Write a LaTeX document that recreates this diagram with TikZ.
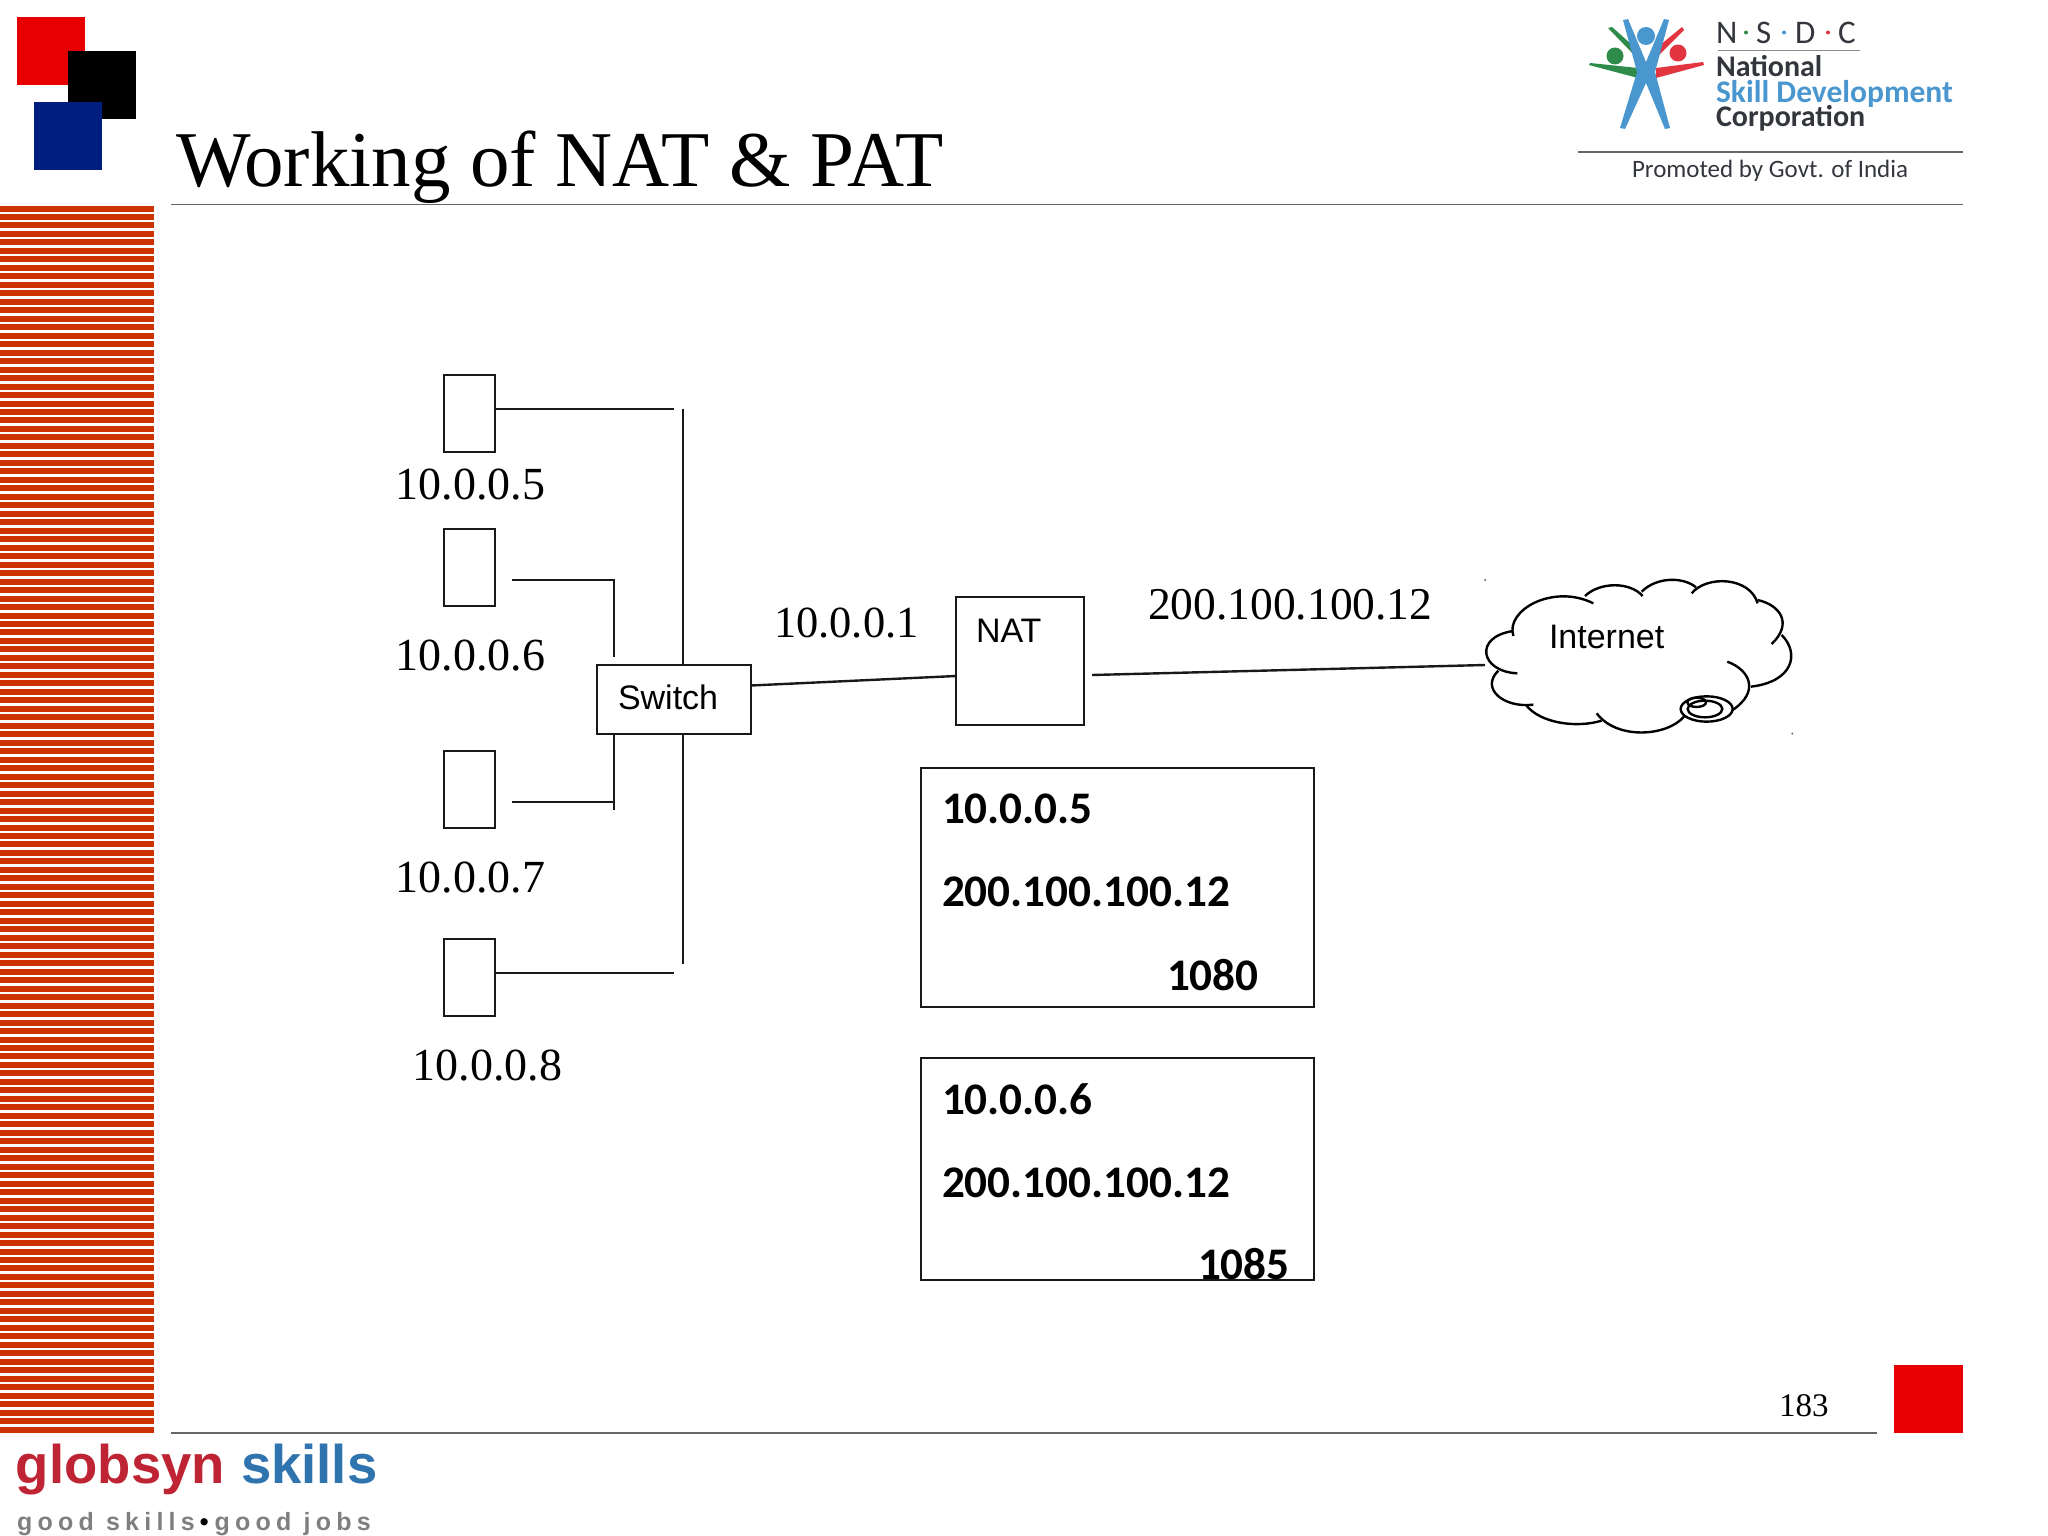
\documentclass[tikz,border=0pt]{standalone}
\usepackage{fontspec}
\setmainfont{Liberation Serif}
\newfontfamily\arialf{Liberation Sans}
\newfontfamily\calib{Carlito}
\newfontfamily\sloganf[LetterSpace=21]{Liberation Sans}
\definecolor{stripe}{HTML}{CC3300}
\definecolor{slred}{HTML}{E60000}
\definecolor{slblue}{HTML}{001E80}
\definecolor{nblue}{HTML}{4A96CE}
\definecolor{ngreen}{HTML}{2E8B4A}
\definecolor{nred}{HTML}{E23540}
\definecolor{ndark}{HTML}{33373D}
\definecolor{gred}{HTML}{BE2433}
\definecolor{gblue}{HTML}{2F74AE}
\definecolor{ggray}{HTML}{7F7F7F}
\tikzset{
  txt/.style={anchor=base west,inner sep=0pt,outer sep=0pt},
  ip/.style={txt,font=\fontsize{46}{46}\selectfont},
  ipb/.style={txt,font=\fontsize{45}{45}\selectfont},
  sans/.style={txt,font=\arialf\fontsize{34}{34}\selectfont},
  bold/.style={txt,font=\calib\bfseries\fontsize{45.2}{45}\selectfont},
  logotext/.style={txt,font=\calib\fontsize{33}{33}\selectfont},
  logobold/.style={txt,font=\calib\bfseries\fontsize{30}{30}\selectfont},
  logoblue/.style={txt,font=\calib\bfseries\fontsize{31.5}{31}\selectfont},
  wire/.style={draw=black!90,line width=2.4pt},
  rule/.style={draw=black!60,line width=1.6pt},
  boxn/.style={draw=black!90,line width=2.4pt,inner sep=0pt,outer sep=0pt},
  pc/.style={boxn,minimum width=51pt,minimum height=77pt},
  cloudline/.style={draw=black,line width=2.4pt},
}
\begin{document}
\begin{tikzpicture}[x=1pt,y=-1pt]
\useasboundingbox (0,0) rectangle (2048,1536);
% corner squares
\fill[slred] (17,17) rectangle (85,85);
\fill[black] (68,51) rectangle (136,119);
\fill[slblue] (34,102) rectangle (102,170);
% stripes
\foreach \i in {0,...,144} {
  \pgfmathsetmacro{\ytop}{round(205.5+\i*8.48)}
  \fill[stripe] (0,\ytop) rectangle (154,\ytop+6.3);
}
% title
\node[txt,font=\fontsize{79}{79}\selectfont] (title) at (176,186) {Working of NAT \& PAT};
\coordinate (tl) at (171,204.5); \coordinate (tr) at (1963,204.5);
\draw[rule] (tl) -- (tr);
\coordinate (bl) at (171,1433); \coordinate (br) at (1877,1433);
\draw[rule] (bl) -- (br);
\fill[slred] (1894,1365) rectangle (1963,1433);
\node[txt,font=\fontsize{33}{33}\selectfont] (page) at (1779,1416) {183};
% NSDC logo
\fill[ngreen] (1608,28) -- (1612,27) -- (1640,52) -- (1637,58) -- cycle;
\fill[ngreen] (1589,65) -- (1590,63) -- (1638,68) -- (1638,78) -- cycle;
\fill[ngreen] (1615,56) circle (8.5pt);
\fill[nred] (1682,27) -- (1684,30) -- (1658,56) -- (1654,50) -- cycle;
\fill[nred] (1703,62) -- (1704,65) -- (1656,78) -- (1656,68) -- cycle;
\fill[nred] (1678,53) circle (8.5pt);
\fill[nblue] (1623,20) -- (1628,19) -- (1646,62) -- (1664,19) -- (1669,20) -- (1655,72) -- (1670,128) -- (1665,129) -- (1646,83) -- (1625,129) -- (1620,128) -- (1637,72) -- cycle;
\fill[nblue] (1646,36) circle (9pt);
\node[logotext,text=ndark] (n1) at (1716,43.5) {N};
\node[logotext,text=ndark] (n2) at (1756,43.5) {S};
\node[logotext,text=ndark] (n3) at (1795,43.5) {D};
\node[logotext,text=ndark] (n4) at (1838,43.5) {C};
\fill[ngreen] (1746,32.5) circle (2pt);
\fill[nblue] (1784,32.5) circle (2pt);
\fill[nred] (1828,32.5) circle (2pt);
\draw[black!45,line width=1pt] (1718,51) -- (1860,51);
\node[logobold,text=ndark] (nat1) at (1716,77) {National};
\node[logoblue,text=nblue] (nat2) at (1716,103) {Skill Development};
\node[logobold,text=ndark] (nat3) at (1716,127) {Corporation};
\draw[rule] (1578,152) -- (1963,152);
\node[txt,text=ndark,font=\calib\fontsize{25}{25}\selectfont] (prom) at (1632,178) {Promoted by Govt. of India};
% globsyn
\node[txt,text=gred,font=\arialf\bfseries\fontsize{54.5}{55}\selectfont] (g1) at (16,1483.5) {globsyn};
\node[txt,text=gblue,font=\arialf\bfseries\fontsize{54.5}{55}\selectfont] (g2) at (241,1483.5) {skills};
\node[txt,text=ggray,font=\sloganf\bfseries\fontsize{25}{25}\selectfont] (g3) at (17,1530) {good skills\hspace{5pt}\textcolor{black}{•}\hspace{6pt}good jobs};
% hosts
\node[pc] (a) at (469.5,413.5) {};
\node[pc] (b) at (469.5,567.5) {};
\node[pc] (c) at (469.5,789.5) {};
\node[pc] (d) at (469.5,977.5) {};
\node[ip] (la) at (395.5,499) {10.0.0.5};
\node[ip] (lb) at (395.5,670) {10.0.0.6};
\node[ip] (lc) at (395.5,892) {10.0.0.7};
\node[ip] (ld) at (412.5,1080) {10.0.0.8};
% switch, NAT
\node[boxn,minimum width=154pt,minimum height=69pt] (sw) at (674,699.5) {};
\node[sans] (swt) at (618,709) {Switch};
\node[boxn,minimum width=128pt,minimum height=128pt] (nat) at (1020,661) {};
\node[sans] (natt) at (976,642) {NAT};
\node[ipb,font=\fontsize{44.5}{45}\selectfont] (l1) at (774,637) {10.0.0.1};
\node[ipb,font=\fontsize{45.5}{45}\selectfont] (l2) at (1148,619.5) {200.100.100.12};
% wires
\coordinate (ae) at (674,409);
\coordinate (bs) at (512,580); \coordinate (bc) at (614,580); \coordinate (be) at (614,657);
\coordinate (cs) at (512,802); \coordinate (cc) at (614,802); \coordinate (ce) at (614,810);
\coordinate (bust) at (683,409); \coordinate (busb) at (683,964);
\coordinate (de) at (674,973);
\coordinate (ns) at (1092,675); \coordinate (ci) at (1485,665);
\draw[wire] ([yshift=4.5pt]a.east) -- (ae);
\draw[wire] (bust) -- (sw.north -| bust);
\draw[wire] (sw.south -| busb) -- (busb);
\draw[wire] (bs) -- (bc) -- (be);
\draw[wire] (cs) -- (cc);
\draw[wire] (sw.south -| ce) -- (ce);
\draw[wire] ([yshift=4.5pt]d.east) -- (de);
\draw[wire] ([yshift=14pt]sw.east) -- ([yshift=-15pt]nat.west);
\draw[wire] (ns) -- (ci);
% info boxes
\node[boxn,minimum width=393pt,minimum height=239pt] (i1) at (1117.5,887.5) {};
\node[bold] (i1a) at (942,823) {10.0.0.5};
\node[bold] (i1b) at (942,906.5) {200.100.100.12};
\node[bold] (i1c) at (1167,990) {1080};
\node[boxn,minimum width=393pt,minimum height=222pt] (i2) at (1117.5,1169) {};
\node[bold] (i2a) at (942,1114) {10.0.0.6};
\node[bold] (i2b) at (942,1197) {200.100.100.12};
\node[bold] (i2c) at (1198,1279) {1085};
% cloud
\begin{scope}[shift={(1460,560)},x=0.3333pt,y=-0.3333pt]
\draw[cloudline] (160,228) .. controls (135,150) and (280,70) .. (400,130);
\draw[cloudline] (375,108) .. controls (420,65) and (510,65) .. (548,108);
\draw[cloudline] (545,95) .. controls (590,50) and (670,50) .. (708,82);
\draw[cloudline] (695,100) .. controls (740,45) and (870,50) .. (893,130);
\draw[cloudline] (893,120) .. controls (960,135) and (1000,190) .. (935,252);
\draw[cloudline] (965,225) .. controls (1020,280) and (1000,365) .. (873,380);
\draw[cloudline] (802,305) .. controls (870,330) and (900,395) .. (818,450);
\draw[cloudline] (672,470) .. controls (620,530) and (470,540) .. (410,460);
\draw[cloudline] (425,482) .. controls (350,505) and (240,490) .. (198,435);
\draw[cloudline] (220,434) .. controls (130,445) and (60,385) .. (115,332);
\draw[cloudline] (172,340) .. controls (60,335) and (40,230) .. (160,213);
\draw[cloudline] (740,447) ellipse [x radius=78,y radius=38];
\draw[cloudline] (735,447) ellipse [x radius=52,y radius=25];
\draw[cloudline] (710,427) ellipse [x radius=28,y radius=14];
\fill[black!70] (75,60) circle (3);
\fill[black!70] (997,521) circle (3);
\end{scope}
\node[sans] (net) at (1549,648) {Internet};
\end{tikzpicture}
\end{document}
